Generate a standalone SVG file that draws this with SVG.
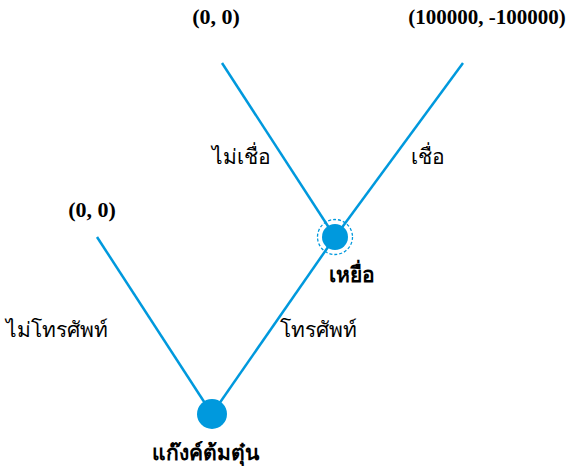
<svg xmlns="http://www.w3.org/2000/svg" width="579" height="471" viewBox="0 0 579 471">
<style>
text{font-family:"Liberation Serif","DejaVu Serif",serif;font-size:21px;fill:#000;text-anchor:middle}
.b{font-weight:bold}
.v{font-size:22px}
.e{stroke:#0099dd;stroke-width:2.5;fill:none}
.n{fill:#0099dd}
</style>
<rect width="579" height="471" fill="#fff"/>
<g id="edges">
<line class="e" x1="212" y1="414" x2="97" y2="237"/>
<line class="e" x1="212" y1="414" x2="335" y2="237"/>
<line class="e" x1="335" y1="237" x2="222" y2="63"/>
<line class="e" x1="335" y1="237" x2="463" y2="63"/>
</g>
<g id="edge-labels">
<text x="57" y="337">ไม่โทรศัพท์</text>
<text x="318" y="337">โทรศัพท์</text>
<text x="241" y="164">ไม่เชื่อ</text>
<text x="428" y="164">เชื่อ</text>
</g>
<g id="root">
<circle class="n" cx="212" cy="414" r="15"/>
<text class="b" x="205" y="460">แก๊งค์ต้มตุ๋น</text>
</g>
<g id="victim">
<circle class="n" cx="335" cy="237" r="13"/>
<circle cx="335" cy="237" r="17.5" fill="none" stroke="#0099dd" stroke-width="1.3" stroke-dasharray="3,2"/>
<text class="b" x="352" y="282">เหยื่อ</text>
</g>
<g id="leaf1">
<text class="b v" x="92" y="217">(0, 0)</text>
</g>
<g id="leaf2">
<text class="b v" x="216" y="24">(0, 0)</text>
</g>
<g id="leaf3">
<text class="b" x="487" y="24">(100000, -100000)</text>
</g>
</svg>
